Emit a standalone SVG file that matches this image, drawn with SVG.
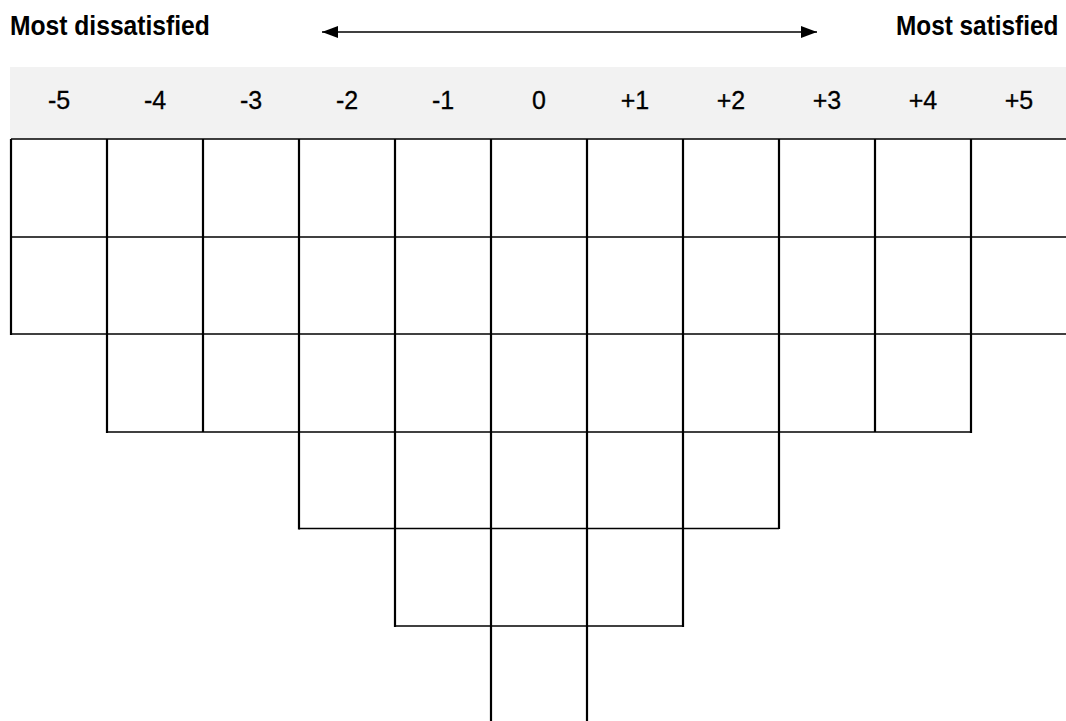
<svg xmlns="http://www.w3.org/2000/svg" width="1066" height="721" viewBox="0 0 1066 721">
<style>
.title{font-family:"Liberation Sans",Arial,sans-serif;font-weight:bold;font-size:28px;fill:#000}
.num{font-family:"Liberation Sans",Arial,sans-serif;font-size:25px;fill:#000;text-anchor:middle;stroke:#000;stroke-width:0.3}
.v{stroke:#000;stroke-width:2.2;fill:none}
.h{stroke:#000;stroke-width:1.6;fill:none}
</style>
<defs>
<marker id="ah" viewBox="0 0 16 12" refX="16" refY="6" markerWidth="16" markerHeight="12" markerUnits="userSpaceOnUse" orient="auto-start-reverse">
<path d="M0,0 L16,6 L0,12 Z" fill="#000"/>
</marker>
</defs>
<rect width="1066" height="721" fill="#fff"/>
<g id="titles">
<text class="title" transform="translate(10,35) scale(0.88,1)" x="0" y="0">Most dissatisfied</text>
<text class="title" transform="translate(896,35) scale(0.87,1)" x="0" y="0">Most satisfied</text>
</g>
<g id="scale-arrow">
<line x1="322" y1="32" x2="817" y2="32" stroke="#000" stroke-width="1.3" marker-start="url(#ah)" marker-end="url(#ah)"/>
</g>
<g id="header">
<rect x="10" y="67" width="1056" height="72" fill="#f2f2f2"/>
<text class="num" x="59" y="109">-5</text>
<text class="num" x="155" y="109">-4</text>
<text class="num" x="251" y="109">-3</text>
<text class="num" x="347" y="109">-2</text>
<text class="num" x="443" y="109">-1</text>
<text class="num" x="539" y="109">0</text>
<text class="num" x="635" y="109">+1</text>
<text class="num" x="731" y="109">+2</text>
<text class="num" x="827" y="109">+3</text>
<text class="num" x="923" y="109">+4</text>
<text class="num" x="1019" y="109">+5</text>
</g>
<g id="grid">
<line class="h" x1="11" y1="139" x2="1066" y2="139"/>
<line class="h" x1="11" y1="237" x2="1066" y2="237"/>
<line class="h" x1="11" y1="334" x2="1066" y2="334"/>
<line class="h" x1="107" y1="432" x2="971" y2="432"/>
<line class="h" x1="299" y1="528.5" x2="779" y2="528.5"/>
<line class="h" x1="395" y1="626" x2="683" y2="626"/>
<line class="v" x1="11" y1="139" x2="11" y2="335"/>
<line class="v" x1="107" y1="139" x2="107" y2="433"/>
<line class="v" x1="203" y1="139" x2="203" y2="432"/>
<line class="v" x1="299" y1="139" x2="299" y2="529.5"/>
<line class="v" x1="395" y1="139" x2="395" y2="627"/>
<line class="v" x1="491" y1="139" x2="491" y2="721"/>
<line class="v" x1="587" y1="139" x2="587" y2="721"/>
<line class="v" x1="683" y1="139" x2="683" y2="627"/>
<line class="v" x1="779" y1="139" x2="779" y2="529"/>
<line class="v" x1="875" y1="139" x2="875" y2="432"/>
<line class="v" x1="971" y1="139" x2="971" y2="433"/>
</g>
</svg>
